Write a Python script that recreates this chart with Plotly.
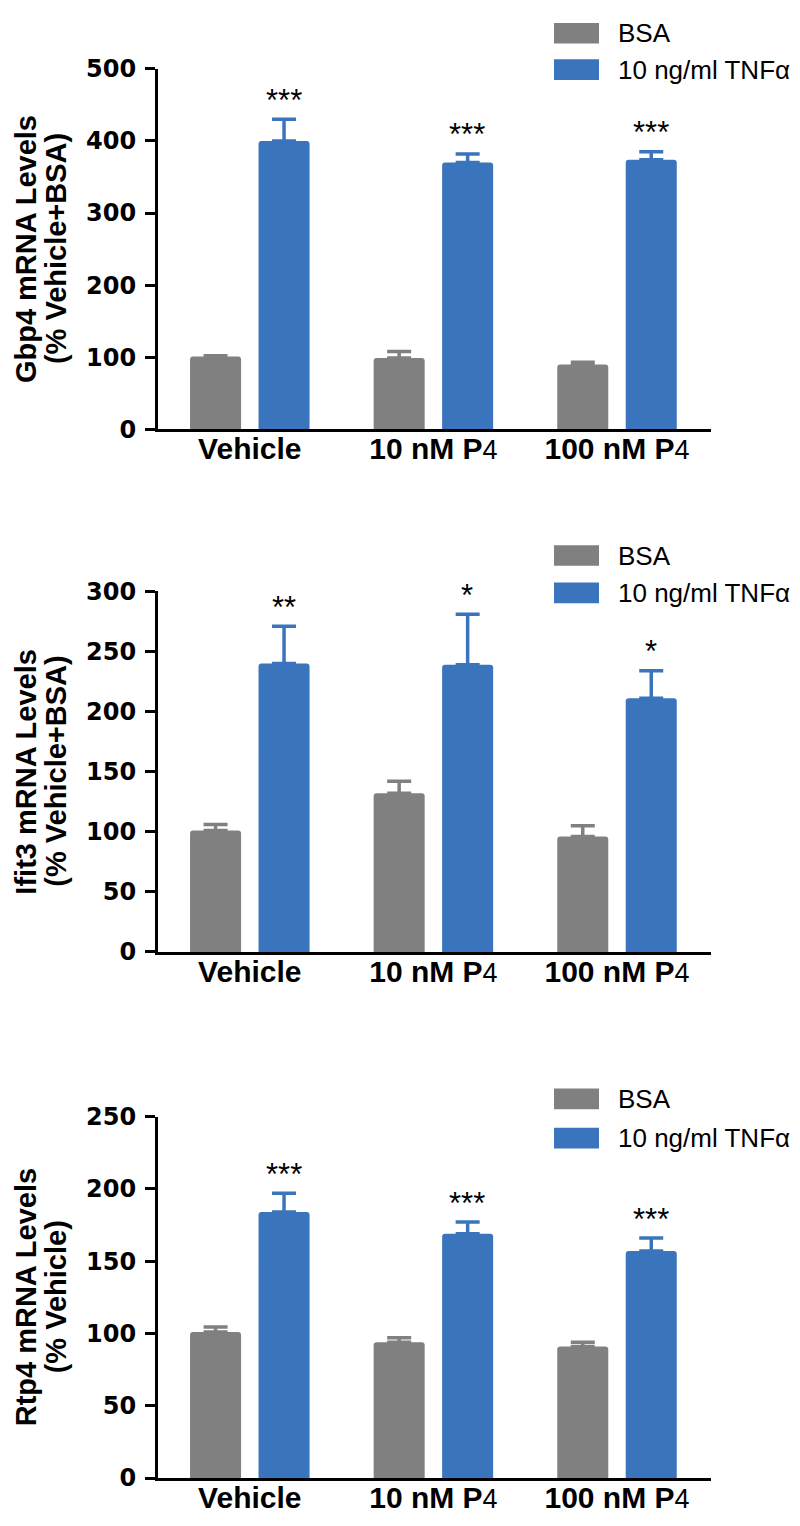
import plotly.graph_objects as go

# ---------------- data ----------------
categories = ["Vehicle", "10 nM P4", "100 nM P4"]
tick_labels = [
    "Vehicle",
    "10 nM P<span style='font-weight:normal;font-size:27px'>4</span>",
    "100 nM P<span style='font-weight:normal;font-size:27px'>4</span>",
]
series_names = ["BSA", "10 ng/ml TNFα"]

gbp4_bsa = [101, 99, 90]
gbp4_bsa_err = [1, 9, 3]
gbp4_tnf = [400, 370, 374]
gbp4_tnf_err = [30, 12, 11]
gbp4_sig = ["***", "***", "***"]

ifit3_bsa = [101, 132, 96]
ifit3_bsa_err = [5, 10, 9]
ifit3_tnf = [240, 239, 211]
ifit3_tnf_err = [31, 42, 23]
ifit3_sig = ["**", "*", "*"]

rtp4_bsa = [101, 94, 91]
rtp4_bsa_err = [3.5, 3, 3]
rtp4_tnf = [184, 169, 157]
rtp4_tnf_err = [13, 8, 9]
rtp4_sig = ["***", "***", "***"]

y_titles = [
    ("Gbp4 mRNA Levels", "(% Vehicle+BSA)"),
    ("Ifit3 mRNA Levels", "(% Vehicle+BSA)"),
    ("Rtp4 mRNA Levels", "(% Vehicle)"),
]
y_max = [500, 300, 250]
y_step = [100, 50, 50]

# ---------------- style ----------------
W, H = 800, 1526
GREY = "#808080"
BLUE = "#3a74bc"
ARIAL = "Liberation Sans, Arial, sans-serif"
TICKFONT = "DejaVu Sans, sans-serif"

# pixel geometry of each panel (top, bottom of plot area)
panel_px = [(47.7, 415.0), (580.0, 947.3), (1115.0, 1483.3)]
legend_px = [(11.5, 48.5), (543.5, 581.5), (1097.0, 1137.0)]
x_left, x_right = 150, 703

panels = [
    (gbp4_bsa, gbp4_bsa_err, gbp4_tnf, gbp4_tnf_err, gbp4_sig),
    (ifit3_bsa, ifit3_bsa_err, ifit3_tnf, ifit3_tnf_err, ifit3_sig),
    (rtp4_bsa, rtp4_bsa_err, rtp4_tnf, rtp4_tnf_err, rtp4_sig),
]

fig = go.Figure()
shapes = []
annotations = []

for i, (bsa, bsa_e, tnf, tnf_e, sig) in enumerate(panels):
    sfx = "" if i == 0 else str(i + 1)
    xa, ya = "x" + sfx, "y" + sfx
    for name, vals, errs, col in [
        (series_names[0], bsa, bsa_e, GREY),
        (series_names[1], tnf, tnf_e, BLUE),
    ]:
        fig.add_trace(go.Bar(
            x=categories, y=vals, name=name, xaxis=xa, yaxis=ya,
            marker=dict(color=col, line=dict(width=0), cornerradius=3),
            error_y=dict(type="data", symmetric=False, array=errs,
                         arrayminus=[0] * len(errs), color=col,
                         thickness=3.5, width=12),
            showlegend=False,
        ))
    # significance stars above TNF bars
    for c, v, e, s in zip(categories, tnf, tnf_e, sig):
        annotations.append(dict(
            x=c, y=v + e, xref=xa, yref=ya, text=s, showarrow=False,
            xshift=34, yshift=19, yanchor="middle",
            font=dict(family=ARIAL, size=31, color="black"),
        ))
    top, bot = panel_px[i]
    dom = [1 - bot / H, 1 - top / H]
    fig.update_layout(**{
        "xaxis" + sfx: dict(
            domain=[x_left / W, x_right / W], anchor=ya,
            type="category", range=[-0.5, 2.512],
            tickmode="array", tickvals=categories, ticktext=tick_labels,
            showline=True, linecolor="black", linewidth=3,
            ticks="", showgrid=False, zeroline=False,
            ticklabelstandoff=-9,
            tickfont=dict(family=ARIAL, size=30, color="black", weight="bold"),
        ),
        "yaxis" + sfx: dict(
            domain=dom, anchor=xa, range=[0, y_max[i]],
            tick0=0, dtick=y_step[i],
            showline=True, linecolor="black", linewidth=3,
            ticks="outside", ticklen=10, tickwidth=3, tickcolor="black",
            showgrid=False, zeroline=False,
            ticklabelstandoff=4,
            tickfont=dict(family=TICKFONT, size=24, color="black", weight="bold"),
        ),
    })
    # y-axis title (two lines)
    yc = 1 - (top + bot) / 2 / H
    l1, l2 = y_titles[i]
    for txt, xp in [(l1, 18), (l2, 48)]:
        annotations.append(dict(
            x=xp / W, y=yc, xref="paper", yref="paper", text="<b>%s</b>" % txt,
            textangle=-90, showarrow=False, xanchor="center", yanchor="middle",
            font=dict(family=ARIAL, size=29, color="black"),
        ))
    # legend
    for name, col, cy in [(series_names[0], GREY, legend_px[i][0]),
                          (series_names[1], BLUE, legend_px[i][1])]:
        shapes.append(dict(
            type="rect", xref="paper", yref="paper",
            x0=546 / W, x1=591 / W, y0=1 - (cy + 10.5) / H, y1=1 - (cy - 10.5) / H,
            fillcolor=col, line=dict(width=0),
        ))
        annotations.append(dict(
            x=608 / W, y=1 - cy / H, xref="paper", yref="paper", text=name,
            showarrow=False, xanchor="left", yanchor="middle",
            font=dict(family=ARIAL, size=26, color="black"),
        ))

fig.update_layout(
    width=W, height=H, margin=dict(l=0, r=0, t=0, b=0),
    paper_bgcolor="white", plot_bgcolor="white",
    barmode="group", bargap=0.254, bargroupgap=0.255,
    shapes=shapes, annotations=annotations, showlegend=False,
)

fig.write_html("out.html")
